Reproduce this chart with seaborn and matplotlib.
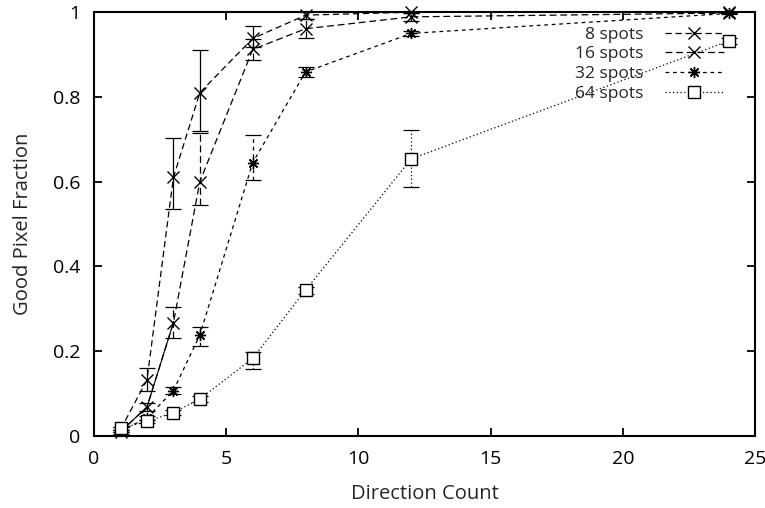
import matplotlib
matplotlib.use("Agg")
import matplotlib.pyplot as plt
import seaborn as sns
import pandas as pd

# values
directions = [1, 2, 3, 4, 6, 8, 12, 24]
series_names = ["8 spots", "16 spots", "32 spots", "64 spots"]

frac_8 = [0.015, 0.132, 0.610, 0.810, 0.938, 0.993, 1.000, 1.000]
lo_8 = [0.005, 0.025, 0.075, 0.090, 0.020, 0.010, 0.003, 0.000]
hi_8 = [0.005, 0.028, 0.092, 0.100, 0.030, 0.007, 0.000, 0.000]

frac_16 = [0.010, 0.068, 0.267, 0.600, 0.912, 0.961, 0.989, 0.998]
lo_16 = [0.005, 0.010, 0.037, 0.055, 0.025, 0.023, 0.010, 0.000]
hi_16 = [0.005, 0.010, 0.037, 0.115, 0.025, 0.024, 0.010, 0.000]

frac_32 = [0.012, 0.042, 0.107, 0.238, 0.645, 0.859, 0.950, 0.997]
lo_32 = [0.003, 0.005, 0.008, 0.025, 0.040, 0.012, 0.006, 0.002]
hi_32 = [0.003, 0.005, 0.008, 0.020, 0.065, 0.012, 0.006, 0.002]

frac_64 = [0.018, 0.034, 0.055, 0.087, 0.183, 0.344, 0.654, 0.932]
lo_64 = [0.004, 0.004, 0.006, 0.008, 0.025, 0.008, 0.067, 0.006]
hi_64 = [0.004, 0.004, 0.006, 0.008, 0.015, 0.008, 0.067, 0.006]

fracs = [frac_8, frac_16, frac_32, frac_64]
los = [lo_8, lo_16, lo_32, lo_64]
his = [hi_8, hi_16, hi_32, hi_64]

df = pd.concat([
    pd.DataFrame({"directions": directions, "fraction": f, "series": name})
    for name, f in zip(series_names, fracs)
], ignore_index=True)

sns.set_style("ticks")
plt.rcParams["font.family"] = ["Open Sans", "DejaVu Sans"]

line_styles = [(0, (5, 3)), (0, (5.5, 3)), (0, (3, 3)), (0, (1, 2))]
marker_list = ["x", "x", (8, 2, 0), "s"]
bar_styles = ["-", (0, (5.5, 3)), (0, (3, 3)), (0, (1, 2))]

fig = plt.figure(figsize=(7.65, 5.08), dpi=100)
ax = fig.add_axes([0.123, 0.142, 0.864, 0.834])

handles = []
for name, ls, mk in zip(series_names, line_styles, marker_list):
    sub = df[df["series"] == name]
    sns.lineplot(data=sub, x="directions", y="fraction", color="black",
                 linewidth=0.9, linestyle=ls, marker=mk, markersize=8,
                 markeredgecolor="black", markerfacecolor="white",
                 markeredgewidth=1.0, estimator=None, errorbar=None,
                 ax=ax, clip_on=False, zorder=3, label=name)
    handles.append(ax.lines[-1])

# thin solid trace along the first points of the 16 spot run
ax.plot(directions[:3], frac_16[:3], color="black", lw=0.8, zorder=2)

for f, lo, hi, ls in zip(fracs, los, his, bar_styles):
    eb = ax.errorbar(directions, f, yerr=[lo, hi], fmt="none", ecolor="black",
                     elinewidth=0.9, capsize=6, capthick=0.9, zorder=2)
    for col in eb[2]:
        col.set_linestyle(ls)

ax.set_xlim(0, 25)
ax.set_ylim(0, 1)
ax.set_xticks([0, 5, 10, 15, 20, 25])
ax.set_yticks([0, 0.2, 0.4, 0.6, 0.8, 1])
ax.set_yticklabels(["0", "0.2", "0.4", "0.6", "0.8", "1"])
ax.tick_params(direction="in", length=6, width=1.3, top=True, right=True,
               labelsize=14, colors="black")
ax.tick_params(axis="x", pad=10)
ax.tick_params(axis="y", pad=10)
for s in ax.spines.values():
    s.set_linewidth(1.5)
    s.set_color("black")
    s.set_visible(True)

ax.set_xlabel("Direction Count", fontsize=14.5, labelpad=12)
ax.set_ylabel("Good Pixel Fraction", fontsize=14.5, labelpad=14)

labels = ["  8 spots", "16 spots", "32 spots", "64 spots"]
ax.legend(handles, labels, loc="upper right", bbox_to_anchor=(0.953, 0.966),
          frameon=False, markerfirst=False, handlelength=3.4, fontsize=12.5,
          labelspacing=0.2, handletextpad=1.25, borderpad=0,
          borderaxespad=0)

fig.savefig("out.png", dpi=100)
